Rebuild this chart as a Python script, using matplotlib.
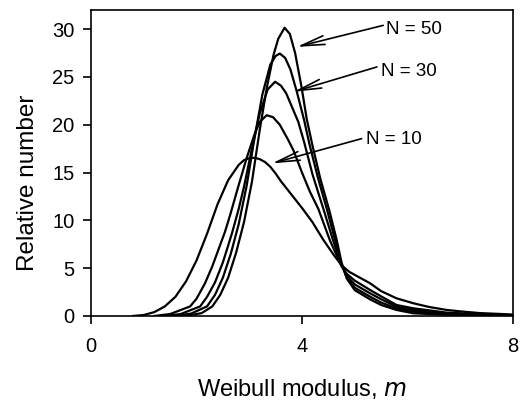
import matplotlib
matplotlib.use("Agg")
import matplotlib.pyplot as plt

plt.rcParams['font.family'] = ['Liberation Sans', 'DejaVu Sans']

# curves (Weibull modulus m, relative number)
x_n10 = [0.8, 1.0, 1.2, 1.4, 1.6, 1.8, 2.0, 2.2, 2.4, 2.6, 2.8, 2.9, 3.0, 3.1, 3.2, 3.3, 3.4, 3.5, 3.6,
         3.8, 4.0, 4.2, 4.4, 4.6, 4.75, 4.9, 5.0, 5.29, 5.5, 5.79, 6.11, 6.4, 6.74, 7.0, 7.37, 8.0]
y_n10 = [0.0, 0.1, 0.4, 1.0, 2.0, 3.6, 5.8, 8.6, 11.7, 14.2, 15.8, 16.3, 16.5, 16.55, 16.4, 16.1, 15.6, 14.9, 14.1,
         12.7, 11.3, 9.8, 8.0, 6.4, 5.3, 4.6, 4.3, 3.42, 2.6, 1.85, 1.33, 0.95, 0.63, 0.48, 0.3, 0.15]

x_b = [1.2, 1.5, 1.88, 2.0, 2.16, 2.3, 2.54, 2.64, 2.79, 2.95, 3.1, 3.2, 3.33, 3.45, 3.58, 3.74,
       3.84, 4.0, 4.15, 4.31, 4.53, 4.75, 4.85, 5.0, 5.29, 5.5, 5.79, 6.11, 6.74, 7.5, 8.0]
y_b = [0.0, 0.2, 1.0, 1.8, 3.4, 5.2, 8.8, 10.6, 13.5, 16.5, 19.0, 20.3, 21.0, 20.8, 20.0, 18.4,
       17.3, 15.0, 13.0, 11.2, 7.9, 5.2, 4.4, 3.7, 2.72, 2.05, 1.15, 0.8, 0.35, 0.15, 0.06]

x_c = [1.4, 1.7, 2.07, 2.2, 2.35, 2.5, 2.67, 2.8, 2.9, 3.05, 3.2, 3.35, 3.49, 3.6, 3.7, 3.8,
       3.93, 4.04, 4.2, 4.4, 4.59, 4.75, 4.85, 5.0, 5.29, 5.5, 5.79, 6.11, 6.74, 7.5, 8.0]
y_c = [0.0, 0.2, 1.0, 2.0, 3.5, 5.6, 8.6, 11.2, 13.5, 17.5, 21.2, 23.7, 24.5, 24.1, 23.3, 22.0,
       20.3, 18.2, 14.8, 11.3, 7.9, 5.3, 4.2, 3.3, 2.37, 1.75, 0.97, 0.63, 0.25, 0.09, 0.04]

x_d = [1.6, 1.9, 2.2, 2.35, 2.5, 2.65, 2.8, 2.95, 3.1, 3.25, 3.4, 3.5, 3.58, 3.68, 3.78, 3.9,
       4.04, 4.14, 4.3, 4.47, 4.63, 4.75, 4.85, 5.0, 5.29, 5.5, 5.79, 6.11, 6.74, 7.5, 8.0]
y_d = [0.0, 0.25, 1.0, 2.2, 4.0, 6.5, 9.6, 13.6, 18.6, 23.2, 26.3, 27.2, 27.45, 27.0, 25.8, 23.5,
       20.5, 18.0, 14.5, 11.2, 7.9, 5.4, 4.0, 2.95, 2.02, 1.4, 0.8, 0.45, 0.18, 0.07, 0.03]

x_n50 = [1.8, 2.1, 2.3, 2.45, 2.6, 2.75, 2.9, 3.05, 3.2, 3.33, 3.46, 3.55, 3.67, 3.77, 3.87, 3.99,
         4.09, 4.2, 4.35, 4.52, 4.66, 4.75, 4.85, 5.0, 5.29, 5.5, 5.79, 6.11, 6.74, 7.5, 8.0]
y_n50 = [0.0, 0.3, 1.0, 2.2, 4.0, 6.6, 9.8, 14.0, 19.5, 23.8, 27.3, 29.0, 30.15, 29.5, 27.5, 24.0,
         20.6, 17.8, 14.3, 11.0, 7.9, 5.6, 3.9, 2.7, 1.74, 1.15, 0.63, 0.28, 0.12, 0.05, 0.02]

curves = [(x_n10, y_n10), (x_b, y_b), (x_c, y_c), (x_d, y_d), (x_n50, y_n50)]

# labels: text, text position, arrow tail, arrow head
labels = ["N = 50", "N = 30", "N = 10"]
label_pos = [(5.6, 30.0), (5.5, 25.6), (5.21, 18.5)]
arrow_tail = [(5.54, 30.4), (5.42, 26.05), (5.13, 18.55)]
arrow_head = [(3.90, 28.15), (3.84, 23.45), (3.43, 15.96)]

fig = plt.figure(figsize=(5.2, 4.03), dpi=100)
ax = fig.add_axes([0.175, 0.216, 0.8115, 0.759])

for xs, ys in curves:
    ax.plot(xs, ys, color='black', lw=1.6, solid_joinstyle='round')

for txt, tp, tail, head in zip(labels, label_pos, arrow_tail, arrow_head):
    ax.annotate('', xy=head, xytext=tail,
                arrowprops=dict(arrowstyle='->,head_length=1.7,head_width=0.32',
                                color='black', lw=1.2, mutation_scale=10,
                                shrinkA=0, shrinkB=0))
    ax.text(tp[0], tp[1], txt, fontsize=13.5, ha='left', va='center')

ax.set_xlim(0, 8)
ax.set_ylim(0, 32)
ax.set_xticks([0, 4, 8])
ax.set_yticks([0, 5, 10, 15, 20, 25, 30])
ax.tick_params(direction='out', length=6, width=1.2, labelsize=14.5, pad=6)
ax.tick_params(axis='x', pad=9)
for sp in ax.spines.values():
    sp.set_linewidth(1.2)

ax.set_xlabel('Weibull modulus, $\\it{m}$', fontsize=17)
ax.set_ylabel('Relative number', fontsize=17.5)
ax.xaxis.set_label_coords(0.5, -0.2)
ax.yaxis.set_label_coords(-0.123, 0.436)

fig.savefig('out.png', dpi=100)
